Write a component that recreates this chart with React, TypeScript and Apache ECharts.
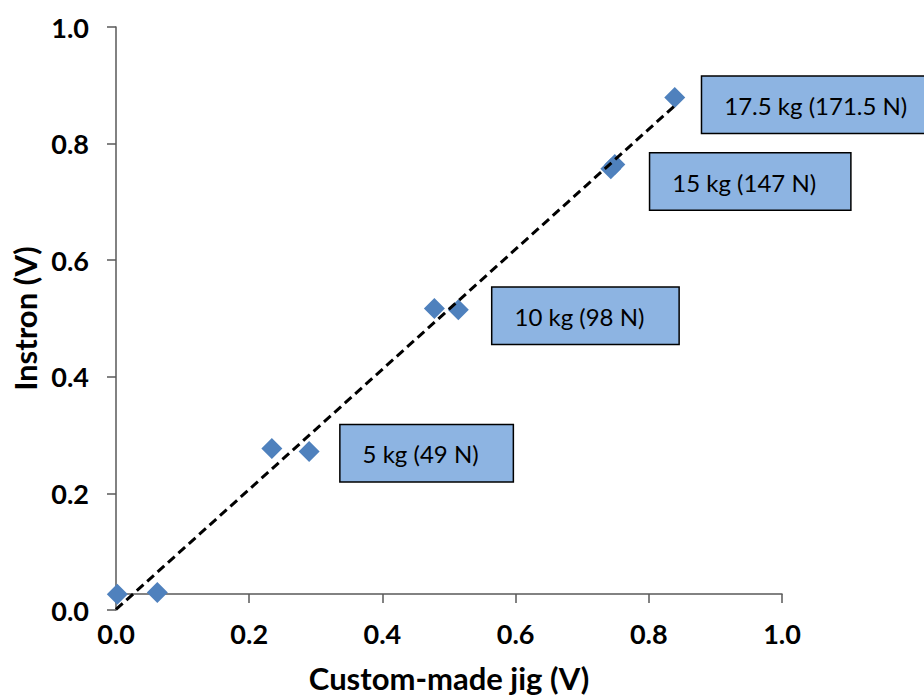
import React, { useEffect, useRef } from "react";
import * as echarts from "echarts";

// Custom-made jig reading (V) vs Instron reading (V)
const jigVolts = [0.002, 0.062, 0.234, 0.29, 0.478, 0.514, 0.743, 0.749, 0.839];
const instronVolts = [0.027, 0.03, 0.277, 0.272, 0.517, 0.515, 0.757, 0.764, 0.879];

// Linear trendline end points
const trendX = [0.0, 0.84];
const trendY = [0.001, 0.866];

// Load annotations and their anchor (box top-left) in data units
const loadLabels = ["17.5 kg (171.5 N)", "15 kg (147 N)", "10 kg (98 N)", "5 kg (49 N)"];
const labelAnchorX = [0.881, 0.803, 0.566, 0.338];
const labelAnchorY = [0.914, 0.782, 0.552, 0.316];

const xTitle = "Custom-made jig (V)";
const yTitle = "Instron (V)";

const FONT = "Lato, 'Open Sans', sans-serif";
const AXIS_COLOR = "#595959";

export default function App() {
  const ref = useRef<HTMLDivElement>(null);

  useEffect(() => {
    if (!ref.current) return;
    const chart = echarts.init(ref.current, undefined, { renderer: "svg" });

    const axisCommon = {
      type: "value" as const,
      min: 0,
      max: 1,
      interval: 0.2,
      splitLine: { show: false },
      axisLine: { show: true, onZero: false, lineStyle: { color: AXIS_COLOR, width: 1.5 } },
      axisTick: { show: true, length: 9, lineStyle: { color: AXIS_COLOR, width: 1.5 } },
      nameLocation: "middle" as const,
      nameTextStyle: { fontFamily: FONT, fontWeight: "bold" as const, fontSize: 31, color: "#000" },
    };

    const tickLabel = {
      formatter: (v: number) => v.toFixed(1),
      fontFamily: FONT,
      fontWeight: "bold" as const,
      fontSize: 27,
      color: "#000",
    };

    chart.setOption({
      animation: false,
      backgroundColor: "#ffffff",
      grid: { left: 116, right: 142, top: 27, bottom: 90 },
      xAxis: {
        ...axisCommon,
        offset: -16,
        name: xTitle,
        nameGap: 68,
        axisLabel: { ...tickLabel, margin: 26 },
      },
      yAxis: {
        ...axisCommon,
        name: yTitle,
        nameGap: 70,
        axisLabel: { ...tickLabel, margin: 27 },
      },
      series: [
        {
          type: "scatter",
          name: "readings",
          symbol: "diamond",
          symbolSize: 21,
          itemStyle: { color: "#4F81BD", opacity: 1 },
          data: jigVolts.map((x, i) => [x, instronVolts[i]]),
          z: 2,
        },
        {
          type: "line",
          name: "trend",
          showSymbol: false,
          symbol: "none",
          lineStyle: { color: "#000", width: 3, type: [9, 5] },
          data: trendX.map((x, i) => [x, trendY[i]]),
          z: 3,
        },
        {
          type: "scatter",
          name: "loads",
          symbolSize: 1,
          itemStyle: { color: "transparent", opacity: 1 },
          data: labelAnchorX.map((x, i) => [x, labelAnchorY[i]]),
          label: {
            show: true,
            position: [0, 0],
            align: "left",
            verticalAlign: "top",
            formatter: (p: any) => loadLabels[p.dataIndex],
            fontFamily: FONT,
            fontSize: 24,
            lineHeight: 25,
            color: "#000",
            opacity: 1,
            backgroundColor: "#8DB4E2",
            borderColor: "#000",
            borderWidth: 1.5,
            padding: [16, 34, 15, 22],
          },
          z: 4,
        },
      ],
    });

    return () => chart.dispose();
  }, []);

  return (
    <div
      ref={ref}
      style={{ position: "fixed", left: 0, top: 0, width: 924, height: 700, background: "#fff" }}
    />
  );
}
